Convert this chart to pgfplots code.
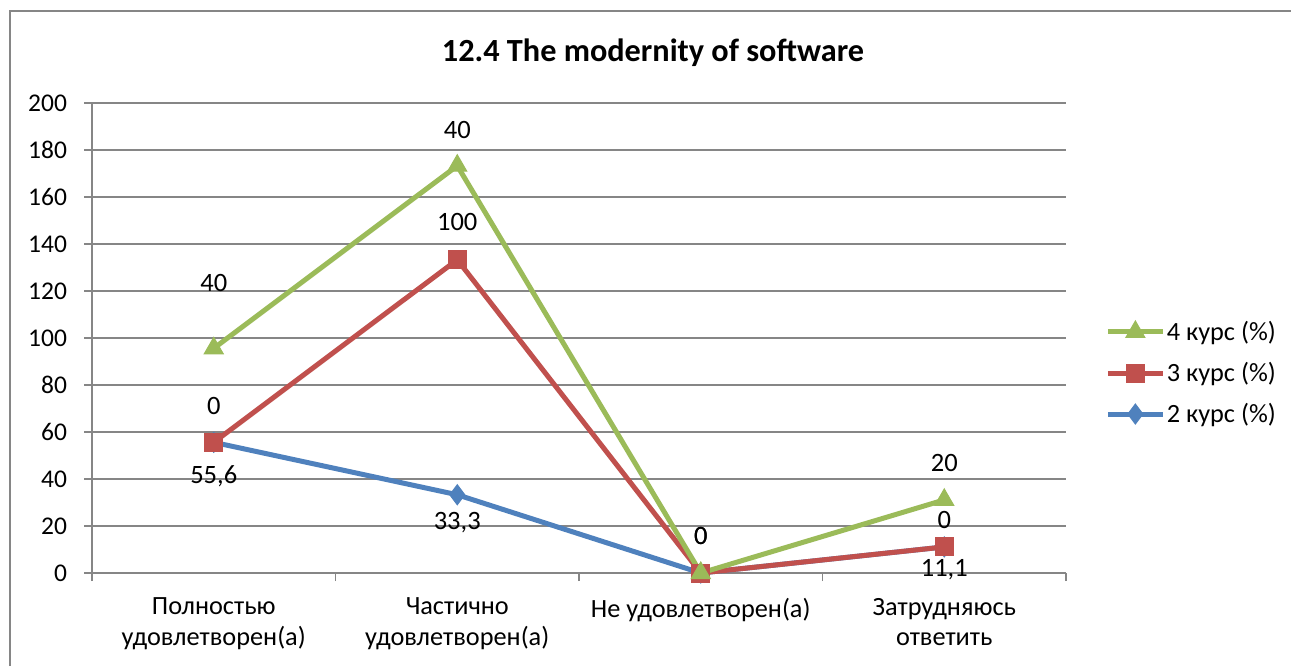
\documentclass[border=0pt]{standalone}
\usepackage{fontspec}
\setmainfont{Carlito}
\usepackage{pgfplots}
\usepackage{pgfplotstable}
\pgfplotsset{compat=1.18}

\definecolor{gr}{RGB}{155,187,89}
\definecolor{rd}{RGB}{192,80,77}
\definecolor{bl}{RGB}{79,129,189}
\definecolor{ax}{RGB}{134,134,134}

% increments of the stacked lines, label text, label offset (bp)
\pgfplotstableread{
x y lab dy
0 55.6 55,6 -17
1 33.3 33,3 -14
2 0 {} 0
3 11.1 11,1 -11.5
}\kursb
\pgfplotstableread{
x y lab dy
0 0 0 18
1 100 100 19
2 0 0 18.5
3 0 0 13.5
}\kursc
\pgfplotstableread{
x y lab dy
0 40 40 32.5
1 40 40 18
2 0 0 18.5
3 20 20 18.5
}\kursd

\begin{document}
\begin{tikzpicture}[x=1bp,y=1bp]
\begin{axis}[
  at={(46bp,46.5bp)}, anchor=south west,
  scale only axis, width=487bp, height=235bp,
  xmin=-0.5, xmax=3.5, ymin=0, ymax=200,
  clip=false,
  ytick={0,20,...,200},
  xtick={0,1,2,3},
  xticklabels={{Полностью\\удовлетворен(а)},{Частично\\удовлетворен(а)},{Не удовлетворен(а)},{Затрудняюсь\\ответить}},
  minor xtick={-0.5,0.5,1.5,2.5,3.5},
  major x tick style={draw=none},
  axis lines*=left,
  axis line style={ax, line width=0.75bp},
  tick align=outside,
  tick style={ax, line width=0.75bp},
  major tick length=4bp, minor tick length=4bp,
  ymajorgrids, grid style={ax, line width=0.75bp},
  /pgf/number format/assume math mode=true,
  tick label style={font=\fontsize{13.2}{15.5}\selectfont, text=black},
  xticklabel style={align=center, yshift=-5bp},
  yticklabel style={xshift=-5bp, font=\fontsize{12.8}{15}\selectfont},
  stack plots=y,
  reverse stacked plots=false,
  point meta=explicit symbolic,
  nodes near coords,
  visualization depends on={\thisrow{dy}\as\dy},
  every node near coord/.style={anchor=center, yshift=\dy bp, font=\fontsize{13.3}{15}\selectfont, text=black},
  legend style={at={(1.04,0.4255)}, anchor=west, draw=none, fill=none, inner sep=0pt,
    font=\fontsize{13.2}{15}\selectfont, row sep=8bp, nodes={inner sep=0.7bp}},
  legend cell align=left,
  reverse legend,
  legend image code/.code={\draw[mark repeat=2,mark phase=2] plot coordinates {(0bp,0bp) (13.75bp,0bp) (27.5bp,0bp)};},
]
\addplot[bl, line width=2.5bp, mark=diamond*, mark size=5bp, mark options={line width=0.5bp}] table[x=x, y=y, meta=lab] {\kursb};
\addlegendentry{2 курс (\%)}
\addplot[rd, line width=2.5bp, mark=square*, mark size=4.5bp, mark options={line width=0.5bp}] table[x=x, y=y, meta=lab] {\kursc};
\addlegendentry{3 курс (\%)}
\addplot[gr, line width=2.5bp, mark=triangle*, mark size=5.5bp, mark options={line width=0.5bp}] table[x=x, y=y, meta=lab] {\kursd};
\addlegendentry{4 курс (\%)}
\end{axis}
\draw[ax, line width=1bp] (5,0) -- (5,327.5) -- (645.5,327.5);
\node[font=\fontsize{16.2}{19}\selectfont\bfseries] at (326.5,306.5) {12.4 The modernity of software};
\pgfresetboundingbox
\useasboundingbox (0,0) rectangle (645.5,333);
\end{tikzpicture}
\end{document}
